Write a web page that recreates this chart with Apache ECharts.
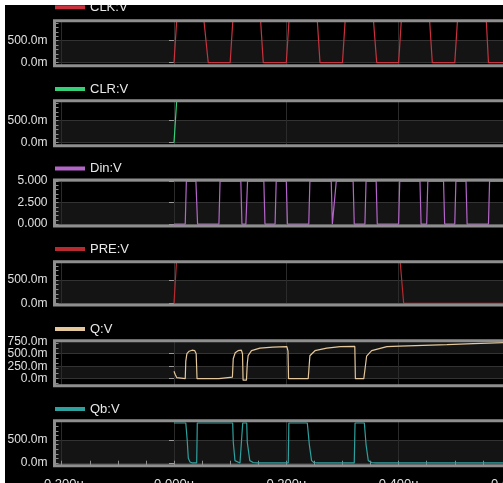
<!DOCTYPE html>
<html><head><meta charset="utf-8">
<script src="https://cdn.jsdelivr.net/npm/echarts@6/dist/echarts.min.js"></script>
<style>
html,body{margin:0;padding:0;background:#fff;width:503px;height:483px;overflow:hidden}
#c{position:absolute;left:5px;top:5px;width:498px;height:478px;background:#000}
</style></head><body><div id="c"></div>
<script>
// ---- data (time in microseconds, value in volts) ----
const seriesNames = ['CLK:V', 'CLR:V', 'Din:V', 'PRE:V', 'Q:V', 'Qb:V'];

const clkT = [0, 0.005, 0.053, 0.061, 0.100, 0.105, 0.154, 0.159, 0.200, 0.205, 0.255, 0.260, 0.300, 0.305, 0.355, 0.361, 0.400, 0.405, 0.455, 0.460, 0.500, 0.505, 0.556, 0.560, 0.600];
const clkV = [0, 1, 1, 0, 0, 1, 1, 0, 0, 1, 1, 0, 0, 1, 1, 0, 0, 1, 1, 0, 0, 1, 1, 0, 0];

const clrT = [0, 0.005, 0.600];
const clrV = [0, 1, 1];

const dinT = [0, 0.020, 0.022, 0.039, 0.042, 0.080, 0.082, 0.119, 0.121, 0.128, 0.131, 0.160, 0.162, 0.180, 0.182, 0.200, 0.202, 0.240, 0.242, 0.280, 0.282, 0.285, 0.289, 0.319, 0.321, 0.340, 0.342, 0.360, 0.362, 0.400, 0.402, 0.438, 0.440, 0.450, 0.452, 0.480, 0.482, 0.500, 0.502, 0.520, 0.522, 0.560, 0.562, 0.600];
const dinV = [0, 0, 5, 5, 0, 0, 5, 5, 0, 0, 5, 5, 0, 0, 5, 5, 0, 0, 5, 5, 0, 0, 5, 5, 0, 0, 5, 5, 0, 0, 5, 5, 0, 0, 5, 5, 0, 0, 5, 5, 0, 0, 5, 5];

const preT = [0, 0.005, 0.402, 0.409, 0.600];
const preV = [0, 1, 1, 0, 0];

const qT = [0, 0.002, 0.005, 0.008, 0.020, 0.021, 0.023, 0.027, 0.032, 0.037, 0.0395, 0.041, 0.080, 0.081, 0.104, 0.1055, 0.109, 0.114, 0.120, 0.122, 0.123, 0.129, 0.1305, 0.132, 0.138, 0.153, 0.176, 0.201, 0.203, 0.204, 0.239, 0.240, 0.241, 0.242, 0.251, 0.272, 0.296, 0.322, 0.323, 0.338, 0.339, 0.341, 0.343, 0.352, 0.379, 0.402, 0.486, 0.533, 0.586, 0.600];
const qV = [0.15, 0.09, 0.02, 0.0, 0.0, 0.35, 0.50, 0.55, 0.57, 0.56, 0.50, 0.0, 0.0, 0.03, 0.03, 0.40, 0.52, 0.56, 0.57, 0.50, -0.03, -0.03, 0.30, 0.46, 0.56, 0.61, 0.63, 0.64, 0.55, 0.0, 0.0, -0.04, -0.04, 0.46, 0.56, 0.61, 0.64, 0.645, 0.0, 0.0, -0.04, -0.04, 0.45, 0.56, 0.64, 0.65, 0.68, 0.70, 0.72, 0.72];

const qbT = [0, 0.021, 0.0235, 0.0255, 0.0285, 0.033, 0.0404, 0.0415, 0.1045, 0.1056, 0.1086, 0.1117, 0.1175, 0.121, 0.1224, 0.1295, 0.1305, 0.135, 0.141, 0.1496, 0.2035, 0.2045, 0.2374, 0.241, 0.245, 0.249, 0.256, 0.321, 0.3224, 0.339, 0.342, 0.346, 0.352, 0.360, 0.600];
const qbV = [0.87, 0.87, 0.5, 0.1, 0.02, 0, 0, 0.87, 0.87, 0.45, 0.05, 0.01, 0, 0, 0.87, 0.87, 0.45, 0.05, 0.01, 0, 0, 0.87, 0.87, 0.4, 0.05, 0.01, 0, 0, 0.87, 0.87, 0.4, 0.05, 0.01, 0, 0];

const yTickValues = [[0, 0.5], [0, 0.5], [0, 2.5, 5], [0, 0.5], [0, 0.25, 0.5, 0.75], [0, 0.5]];
const yMin = [-0.068, -0.068, -0.22, -0.037, -0.14, -0.06];
const yMax = [0.955, 0.955, 5.12, 0.89, 0.76, 0.92];
const xMin = -0.2128, xMax = 0.6037;

// ---- build ----
const times = [clkT, clrT, dinT, preT, qT, qbT];
const vals = [clkV, clrV, dinV, preV, qV, qbV];
const colors = ['#c8323e', '#36cf78', '#b466c8', '#b82a30', '#e4c79a', '#2ea19e'];
const FONT = '"Liberation Sans", Arial, sans-serif';
const gridTops = [15.7, 95.7, 175, 256.7, 335.7, 415.7];
const gridHeights = [45, 45, 46, 43.3, 45, 45];
const legendCenters = [2.3, 84, 163.5, 244, 324, 404];

const grids = [], xAxes = [], yAxes = [], series = [], legends = [];
seriesNames.forEach((name, i) => {
  grids.push({
    left: 49.5, width: 458.5, top: gridTops[i], height: gridHeights[i],
    show: true, z: 10, backgroundColor: 'transparent',
    borderColor: '#8e8e8e', borderWidth: 3, outerBoundsMode: 'none'
  });
  const last = i === seriesNames.length - 1;
  xAxes.push({
    gridIndex: i, type: 'value', min: xMin, max: xMax, splitNumber: 4,
    axisLine: { show: false, onZero: false },
    axisTick: { show: last, inside: true, length: 5, lineStyle: { color: '#8e8e8e' } },
    minorTick: { show: last, splitNumber: 4, length: 5, lineStyle: { color: '#8e8e8e' } },
    axisLabel: { show: last, showMinLabel: false, showMaxLabel: false, margin: 12, hideOverlap: false,
      formatter: v => v.toFixed(3) + 'u', color: '#e0e0e0', fontSize: 13, fontFamily: FONT },
    splitLine: { show: true, lineStyle: { color: '#2b2b2b', width: 1 } }
  });
  const fmt = i === 2 ? (v => v.toFixed(3)) : (v => (v * 1000).toFixed(1) + 'm');
  yAxes.push({
    gridIndex: i, type: 'value', min: yMin[i], max: yMax[i], position: 'left',
    axisLine: { show: false },
    axisTick: { show: true, customValues: yTickValues[i], length: 5, lineStyle: { color: '#9a9a9a' } },
    axisLabel: { customValues: yTickValues[i], formatter: fmt, color: '#e0e0e0', fontSize: 12, lineHeight: 12,
      margin: 7, hideOverlap: false, fontFamily: FONT },
    splitLine: { show: true, lineStyle: { color: '#333333' } },
    splitArea: { show: true, areaStyle: { color: ['#141414', 'rgba(0,0,0,0)'] } }
  });
  yAxes.push({
    gridIndex: i, type: 'value', min: yMin[i], max: yMax[i], position: 'left', splitNumber: 10,
    axisLine: { show: false }, axisLabel: { show: false }, splitLine: { show: false }, splitArea: { show: false },
    axisTick: { show: true, inside: true, length: 4, lineStyle: { color: '#8e8e8e' } }
  });
  series.push({
    type: 'line', name: name, xAxisIndex: i, yAxisIndex: 2 * i,
    data: times[i].map((t, k) => [t, vals[i][k]]),
    showSymbol: false, symbol: 'none', clip: true,
    lineStyle: { color: colors[i], width: 1.2 }, itemStyle: { color: colors[i] }
  });
  legends.push({
    data: [name], left: 50, top: legendCenters[i] - 7, padding: 0,
    itemWidth: 30, itemHeight: 4, icon: 'rect', selectedMode: false,
    textStyle: { color: '#e8e8e8', fontSize: 13, lineHeight: 14, fontFamily: FONT }
  });
});

const chart = echarts.init(document.getElementById('c'), null, { renderer: 'canvas' });
chart.setOption({
  backgroundColor: '#000', animation: false,
  grid: grids, xAxis: xAxes, yAxis: yAxes, series: series, legend: legends
});
</script></body></html>
